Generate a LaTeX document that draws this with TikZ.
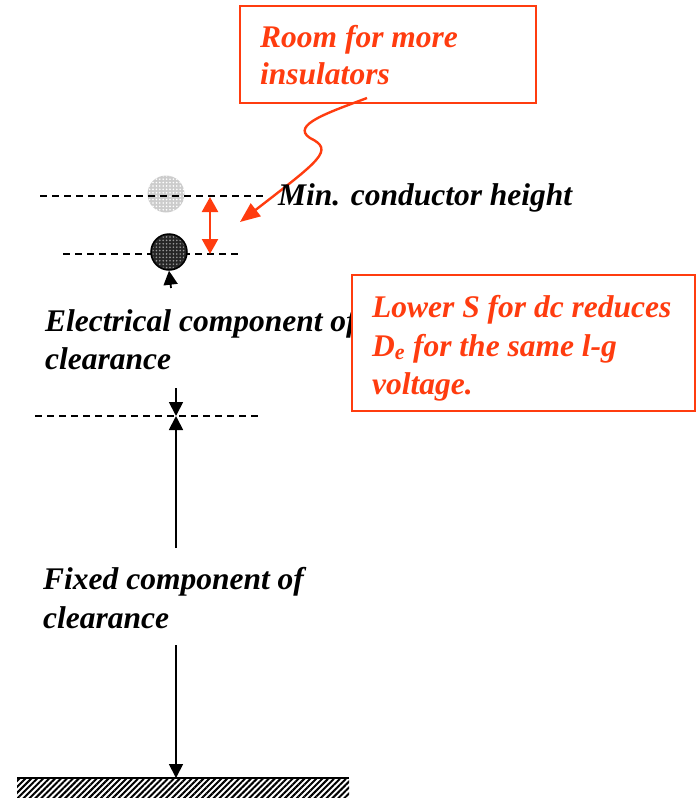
\documentclass[tikz,border=0pt]{standalone}
\usepackage{fontspec}
\setmainfont{Liberation Serif}
\usetikzlibrary{arrows.meta,patterns.meta}
\definecolor{orng}{HTML}{FF3C0F}
\tikzset{
  lbl/.style={font=\fontsize{31.5}{38}\selectfont\bfseries\itshape, anchor=base west, inner sep=0pt},
  rlbl/.style={lbl, text=orng},
  dashln/.style={dashed, dash pattern=on 7pt off 5pt, line width=1.3pt},
  blk/.style={-{Triangle[length=14pt,width=14pt]}, line width=1.8pt},
  rbox/.style={draw=orng, line width=1.5pt},
}
\begin{document}
\begin{tikzpicture}[x=1pt,y=-1pt]
\useasboundingbox (0,0) rectangle (696,798);
% top box
\draw[rbox] (240,6) rectangle (536,103);
\node[rlbl] (room1) at (260,47) {Room for more};
\node[rlbl] (room2) at (260,84) {insulators};
\coordinate (wstart) at (367,98);
\coordinate (wend) at (240,222);
\draw[orng, line width=2.4pt, -{Triangle[length=20pt,width=16pt]}] (wstart) .. controls (330,112) and (290,125) .. (310,138) .. controls (335,150) and (320,160) .. (wend);
% dashed lines
\coordinate (d1a) at (40,196); \coordinate (d1b) at (266,196);
\coordinate (d2a) at (63,254); \coordinate (d2b) at (240,254);
\coordinate (d3a) at (35,416); \coordinate (d3b) at (262,416);
% circles
\fill[gray!40] (166,194) circle (18.5);
\fill[pattern={Dots[radius=0.9pt,distance=3.4pt]}, pattern color=white] (166,194) circle (18.5);
\draw[dashln] (d1a) -- (d1b);
\draw[dashln] (d2a) -- (d2b);
\draw[dashln] (d3a) -- (d3b);
\node[circle, fill=black!85, draw=black, line width=1.5pt, minimum size=36pt, inner sep=0pt] (cond) at (169,252) {};
\fill[pattern={Dots[radius=0.9pt,distance=3.4pt]}, pattern color=white!60!black] (169,252) circle (16.5);
% red double arrow
\coordinate (ra) at (210,197); \coordinate (rb) at (210,254);
\draw[orng, line width=2.4pt, {Triangle[length=15pt,width=16pt]}-{Triangle[length=15pt,width=16pt]}] (ra) -- (rb);
% small up arrow
\coordinate (ua) at (171,288);
\draw[blk] (ua) -- (cond.south);
\node[lbl] (minc) at (278,205) {Min. conductor height};
\node[lbl] (elec1) at (45,331) {Electrical component of};
\node[lbl] (elec2) at (45,369) {clearance};
% electrical arrow
\coordinate (ea) at (176,388); \coordinate (eb) at (176,416);
\draw[blk] (ea) -- (eb);
\coordinate (fa) at (176,548);
\draw[blk] (fa) -- (eb);
\node[lbl] (fix1) at (43,589) {Fixed component of};
\node[lbl] (fix2) at (43,628) {clearance};
% ground
\coordinate (ga) at (176,645); \coordinate (gb) at (176,778);
\draw[blk] (ga) -- (gb);
\fill[pattern={Lines[angle=45,distance=4.2pt,line width=2pt]}] (17,779) rectangle (349,798);
\draw[line width=1.2pt] (17,778) -- (349,778);
% right box
\draw[rbox, fill=white] (352,275) rectangle (695,411);
\node[rlbl] (low1) at (372,317) {Lower S for dc reduces};
\node[rlbl] (low2) at (372,356) {D\textsubscript{e} for the same l-g};
\node[rlbl] (low3) at (372,394) {voltage.};
\end{tikzpicture}
\end{document}
